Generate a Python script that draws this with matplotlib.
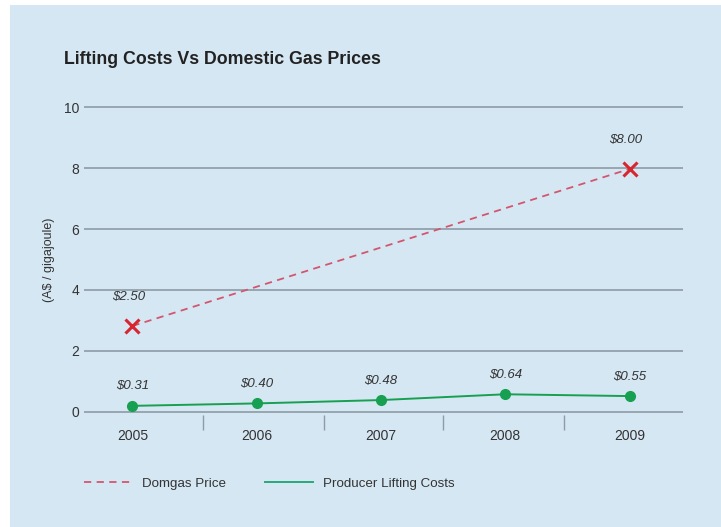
import matplotlib
matplotlib.use('Agg')
import matplotlib.pyplot as plt
from matplotlib.patches import Rectangle
from matplotlib.lines import Line2D

years = ['2005', '2006', '2007', '2008', '2009']
domgas_idx = [0, 4]
domgas_vals = [2.82, 7.97]
domgas_labels = ['$2.50', '$8.00']
lifting_vals = [0.20, 0.28, 0.39, 0.58, 0.52]
lifting_labels = ['$0.31', '$0.40', '$0.48', '$0.64', '$0.55']
yticks = [0, 2, 4, 6, 8, 10]

plt.rcParams['font.family'] = ['Liberation Sans', 'DejaVu Sans']

bg = '#d6e7f4'
txt = '#333333'
grid_c = '#8d9ba6'
red_line = '#d2566e'
red_mark = '#d8262f'
green = '#17a051'

fig = plt.figure(figsize=(7.21, 5.27), dpi=100, facecolor='white')
fig.patches.append(Rectangle((10 / 721, 0), 1, 1 - 5 / 527, transform=fig.transFigure,
                             facecolor=bg, edgecolor='none', zorder=-10))

ax = fig.add_axes([84 / 721, 1 - 415 / 527, (683 - 84) / 721, (415 - 104) / 527])
ax.patch.set_alpha(0)

for s in ax.spines.values():
    s.set_visible(False)

ax.set_ylim(-0.1, 10.1)
ax.set_xlim(-0.39, 4.43)
ax.set_yticks(yticks)
ax.set_yticklabels([str(t) for t in yticks])
for t in yticks:
    ax.axhline(t, color=grid_c, lw=1.2, zorder=1)

ax.set_xticks(range(len(years)))
ax.set_xticklabels(years)
ax.set_xticks([0.57, 1.54, 2.5, 3.47], minor=True)
ax.tick_params(axis='x', which='major', length=0, pad=10, labelsize=10, colors=txt)
ax.tick_params(axis='x', which='minor', length=11, width=1, color=grid_c, direction='out')
ax.tick_params(axis='y', length=0, pad=3.5, labelsize=10, colors=txt)

ax.set_ylabel('(A$ / gigajoule)', fontsize=9, color=txt, labelpad=6)

ax.plot(domgas_idx, domgas_vals, color=red_line, lw=1.3, ls=(0, (4, 3)), zorder=3)
ax.plot(domgas_idx, domgas_vals, ls='none', marker='x', ms=10, mew=2.2,
        color=red_mark, zorder=4)
ax.plot(range(len(years)), lifting_vals, color=green, lw=1.4, marker='o', ms=7,
        zorder=3)

for x, v, lab in zip(domgas_idx, domgas_vals, domgas_labels):
    ax.annotate(lab, (x, v), xytext=(-3, 21), textcoords='offset points',
                ha='center', va='center', fontsize=9.5, style='italic', color=txt)
for x, v, lab in zip(range(len(years)), lifting_vals, lifting_labels):
    ax.annotate(lab, (x, v), xytext=(0, 14), textcoords='offset points',
                ha='center', va='center', fontsize=9.5, style='italic', color=txt)

fig.text(64 / 721, 1 - 60 / 527, 'Lifting Costs Vs Domestic Gas Prices',
         fontsize=12.8, fontweight='bold', color='#222222', va='center')

handles = [Line2D([], [], color=red_line, lw=1.3, ls=(0, (4, 3))),
           Line2D([], [], color='#2aa878', lw=1.4)]
leg = ax.legend(handles, ['Domgas Price', 'Producer Lifting Costs'],
                loc='center left', bbox_to_anchor=(0, -0.22), ncol=2, frameon=False,
                fontsize=9.6, handlelength=3.6, handletextpad=0.75, columnspacing=2.9,
                borderaxespad=0, borderpad=0)
for t in leg.get_texts():
    t.set_color(txt)

fig.savefig('out.png', dpi=100, facecolor='white')
